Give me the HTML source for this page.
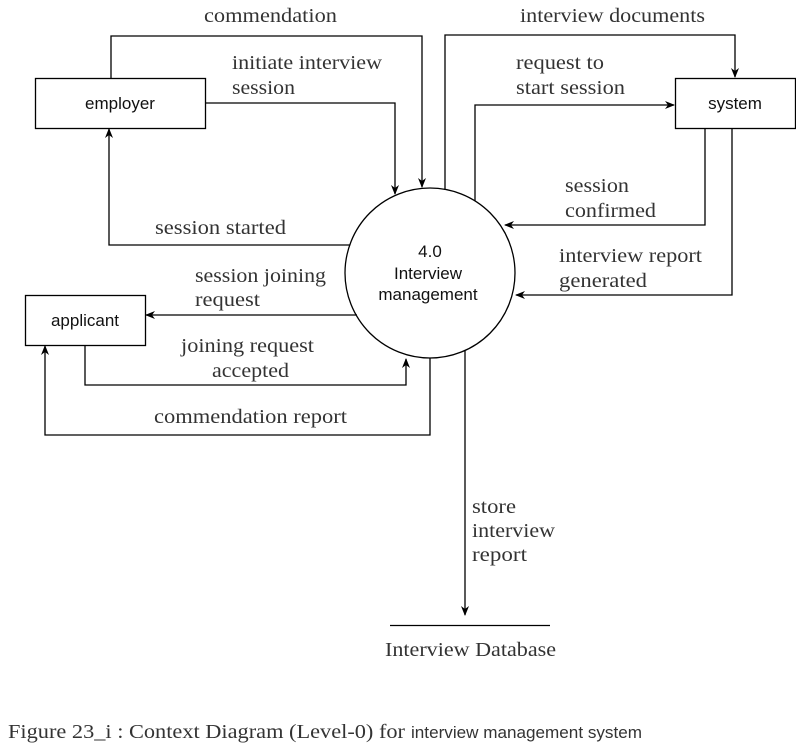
<!DOCTYPE html>
<html><head><meta charset="utf-8"><style>
html,body{margin:0;padding:0;background:#fff;}
svg{display:block;}
.s{font-family:"Liberation Serif",serif;font-size:20px;fill:#333;}
.a{font-family:"Liberation Sans",sans-serif;font-size:17px;fill:#111;}
</style></head><body>
<svg width="796" height="746" viewBox="0 0 796 746" xmlns="http://www.w3.org/2000/svg">
<defs><marker id="m" markerWidth="10" markerHeight="10" refX="9" refY="5" orient="auto" markerUnits="userSpaceOnUse"><path d="M0,1 L10,5 L0,9 L3,5 Z" fill="#000"/></marker></defs>
<g fill="none" stroke="#000" stroke-width="1.3">
<rect x="35.5" y="78.5" width="170" height="50"/>
<rect x="25.5" y="295.5" width="120" height="50"/>
<rect x="675.5" y="78.5" width="120" height="50"/>
<circle cx="430" cy="273" r="85"/>
<polyline points="111,78 111,36 422,36 422,187" marker-end="url(#m)"/>
<polyline points="205,103 395,103 395,194" marker-end="url(#m)"/>
<polyline points="350,245 109,245 109,129" marker-end="url(#m)"/>
<polyline points="357,315 146,315" marker-end="url(#m)"/>
<polyline points="85,345 85,385 406,385 406,359" marker-end="url(#m)"/>
<polyline points="430,358 430,435 45,435 45,346" marker-end="url(#m)"/>
<polyline points="445,190 445,35 735,35 735,77" marker-end="url(#m)"/>
<polyline points="475,201 475,105 674,105" marker-end="url(#m)"/>
<polyline points="705,128 705,225 505,225" marker-end="url(#m)"/>
<polyline points="732,128 732,295 516,295" marker-end="url(#m)"/>
<polyline points="465,351 465,615" marker-end="url(#m)"/>
<line x1="390" y1="625.5" x2="550" y2="625.5"/>
</g>
<text class="a" x="120" y="109" text-anchor="middle">employer</text>
<text class="a" x="85" y="326" text-anchor="middle">applicant</text>
<text class="a" x="735" y="109" text-anchor="middle">system</text>
<text class="a" x="430" y="257" text-anchor="middle">4.0</text>
<text class="a" x="428" y="279" text-anchor="middle">Interview</text>
<text class="a" x="428" y="300" text-anchor="middle">management</text>
<text class="s" x="204" y="22" textLength="133" lengthAdjust="spacingAndGlyphs">commendation</text>
<text class="s" x="232" y="69" textLength="150" lengthAdjust="spacingAndGlyphs">initiate interview</text>
<text class="s" x="232" y="94" textLength="63" lengthAdjust="spacingAndGlyphs">session</text>
<text class="s" x="155" y="234" textLength="131" lengthAdjust="spacingAndGlyphs">session started</text>
<text class="s" x="195" y="282" textLength="131" lengthAdjust="spacingAndGlyphs">session joining</text>
<text class="s" x="195" y="306" textLength="65" lengthAdjust="spacingAndGlyphs">request</text>
<text class="s" x="181" y="352" textLength="133" lengthAdjust="spacingAndGlyphs">joining request</text>
<text class="s" x="212" y="377" textLength="77" lengthAdjust="spacingAndGlyphs">accepted</text>
<text class="s" x="154" y="423" textLength="193" lengthAdjust="spacingAndGlyphs">commendation report</text>
<text class="s" x="520" y="22" textLength="185" lengthAdjust="spacingAndGlyphs">interview documents</text>
<text class="s" x="516" y="69" textLength="88" lengthAdjust="spacingAndGlyphs">request to</text>
<text class="s" x="516" y="94" textLength="109" lengthAdjust="spacingAndGlyphs">start session</text>
<text class="s" x="565" y="192" textLength="64" lengthAdjust="spacingAndGlyphs">session</text>
<text class="s" x="565" y="217" textLength="91" lengthAdjust="spacingAndGlyphs">confirmed</text>
<text class="s" x="559" y="262" textLength="143" lengthAdjust="spacingAndGlyphs">interview report</text>
<text class="s" x="559" y="287" textLength="88" lengthAdjust="spacingAndGlyphs">generated</text>
<text class="s" x="472" y="513" textLength="44" lengthAdjust="spacingAndGlyphs">store</text>
<text class="s" x="472" y="537" textLength="83" lengthAdjust="spacingAndGlyphs">interview</text>
<text class="s" x="472" y="561" textLength="55" lengthAdjust="spacingAndGlyphs">report</text>
<text class="s" x="385" y="656" textLength="171" lengthAdjust="spacingAndGlyphs">Interview Database</text>
<text class="s" x="8" y="738" textLength="397" lengthAdjust="spacingAndGlyphs">Figure 23_i : Context Diagram (Level-0) for</text>
<text x="411" y="738" textLength="231" lengthAdjust="spacingAndGlyphs" style="font-family:'Liberation Sans',sans-serif;font-size:17px;fill:#333">interview management system</text>
</svg>
</body></html>
